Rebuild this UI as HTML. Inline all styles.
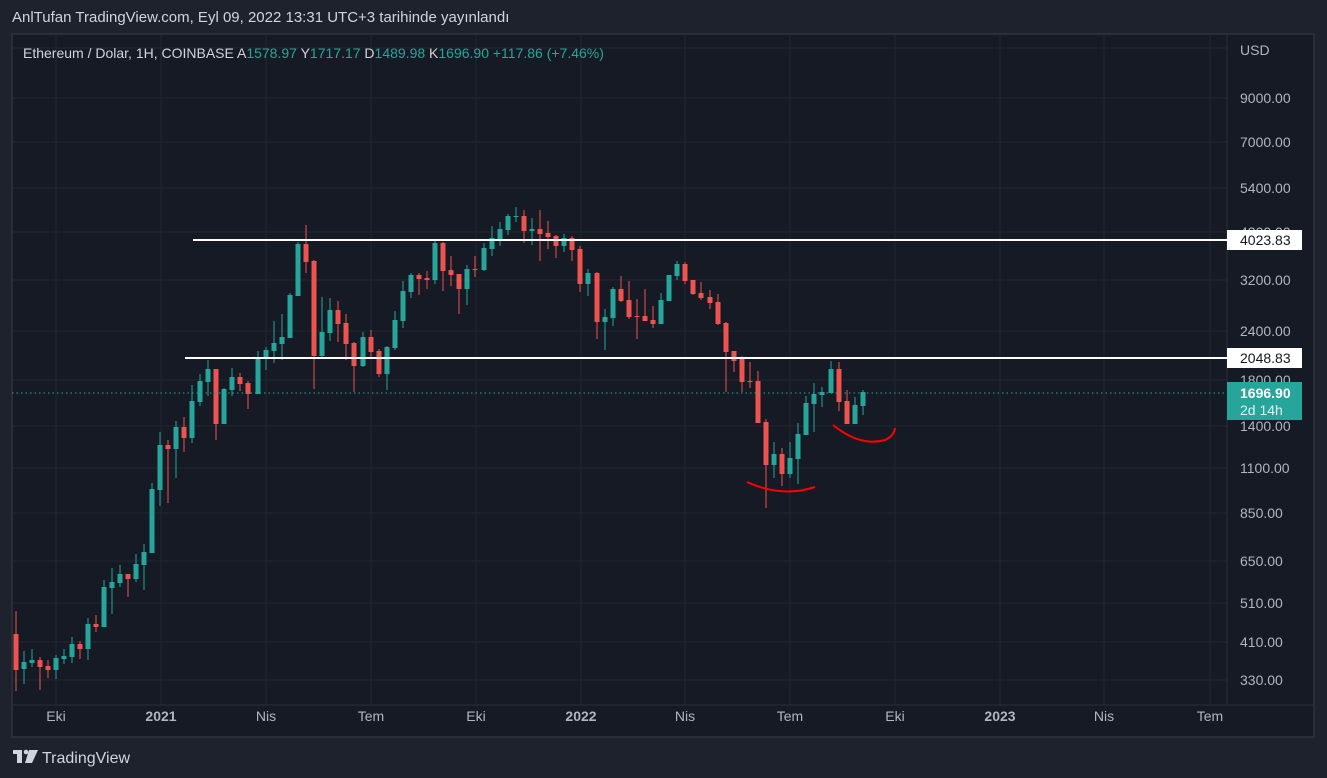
<!DOCTYPE html>
<html><head><meta charset="utf-8"><style>
body{margin:0;width:1327px;height:778px;background:#1e222d;overflow:hidden;font-family:"Liberation Sans",sans-serif;}
#hdr{position:absolute;left:12px;top:9px;color:#d1d4dc;font-size:15px;}
svg{position:absolute;left:0;top:0;}
</style></head><body>
<div id="hdr">AnlTufan TradingView.com, Eyl 09, 2022 13:31 UTC+3 tarihinde yayınlandı</div>
<svg id="s" width="1327" height="778" font-family="Liberation Sans, sans-serif">
<rect x="12" y="34" width="1302" height="703" fill="#161a25" stroke="#2a2e39" stroke-width="2"/>
<g stroke="#21252f" stroke-width="1" id="grid"></g>
<line x1="1227" y1="35" x2="1227" y2="705" stroke="#2a2e39"/>
<line x1="13" y1="705" x2="1313" y2="705" stroke="#2a2e39"/>
<g id="c"></g>
<line x1="12" y1="393" x2="1227" y2="393" stroke="#26a69a" stroke-dasharray="1.5,3"/>
<line x1="193" y1="240" x2="1227" y2="240" stroke="#fff" stroke-width="2"/>
<line x1="185" y1="358" x2="1227" y2="358" stroke="#fff" stroke-width="2"/>
<path d="M747,482 Q782,498 815,487" stroke="#f00" stroke-width="2" fill="none"/>
<path d="M833,425 Q860,447 885,440 Q894,436 895,428" stroke="#f00" stroke-width="2" fill="none"/>
<g fill="#b2b5be" font-size="14">
<text x="1240" y="55">USD</text>
<text x="1240" y="103">9000.00</text><text x="1240" y="147">7000.00</text><text x="1240" y="193">5400.00</text>
<text x="1240" y="237">4200.00</text>
<text x="1240" y="285">3200.00</text><text x="1240" y="336">2400.00</text><text x="1240" y="385">1800.00</text>
<text x="1240" y="431">1400.00</text><text x="1240" y="473">1100.00</text><text x="1240" y="518">850.00</text>
<text x="1240" y="566">650.00</text><text x="1240" y="608">510.00</text><text x="1240" y="647">410.00</text><text x="1240" y="685">330.00</text>
</g>
<rect x="1227" y="230" width="75" height="20" fill="#fff"/><text x="1240" y="245" font-size="14" fill="#131722">4023.83</text>
<rect x="1227" y="348" width="75" height="20" fill="#fff"/><text x="1240" y="363" font-size="14" fill="#131722">2048.83</text>
<rect x="1227" y="382" width="75" height="38" fill="#26a69a"/>
<text x="1240" y="398" font-size="14" font-weight="bold" fill="#fff">1696.90</text>
<text x="1240" y="415" font-size="14" fill="#e0f2f1">2d 14h</text>
<g fill="#b2b5be" font-size="14" text-anchor="middle">
<text x="56" y="721">Eki</text><text x="161" y="721" font-weight="bold">2021</text><text x="266" y="721">Nis</text>
<text x="371" y="721">Tem</text><text x="476" y="721">Eki</text><text x="581" y="721" font-weight="bold">2022</text>
<text x="685" y="721">Nis</text><text x="790" y="721">Tem</text><text x="895" y="721">Eki</text>
<text x="1000" y="721" font-weight="bold">2023</text><text x="1104" y="721">Nis</text><text x="1210" y="721">Tem</text>
</g>
<text x="23" y="58" font-size="14" fill="#d1d4dc">Ethereum / Dolar, 1H, COINBASE <tspan>A</tspan><tspan fill="#26a69a">1578.97</tspan> Y<tspan fill="#26a69a">1717.17</tspan> D<tspan fill="#26a69a">1489.98</tspan> K<tspan fill="#26a69a">1696.90</tspan> <tspan fill="#26a69a">+117.86 (+7.46%)</tspan></text>
<g fill="#d1d4dc"><rect x="13" y="750" width="9" height="4"/><rect x="17" y="750" width="5" height="13"/><circle cx="26" cy="752" r="2.3"/><path d="M29,750 L38,750 L32,763 L25,763 Z"/></g>
<text x="42" y="763" font-size="16" fill="#d1d4dc">TradingView</text>
</svg>
<script>
var g=document.getElementById('grid'),h='';
[56,161,266,371,476,581,685,790,895,1000,1104,1210].forEach(function(x){h+='<line x1="'+x+'" y1="35" x2="'+x+'" y2="705"/>';});
[48,98,142,188,232,280,331,380,426,468,513,561,603,642,680].forEach(function(y){h+='<line x1="13" y1="'+y+'" x2="1227" y2="'+y+'"/>';});
g.innerHTML=h;
var d=[[16,'r',634,670,611,691],[24,'g',662,669,651,684],[32,'g',660,663,649,667],[40,'r',660,667,657,690],[48,'r',666,670,660,678],[56,'g',658,670,655,679],[64,'g',656,659,649,664],[72,'g',644,657,637,663],[80,'r',644,649,641,659],[88,'g',624,649,618,660],[96,'r',624,627,615,632],[104,'g',587,627,580,627],[112,'g',582,588,568,614],[120,'g',574,583,565,587],[128,'r',574,579,574,597],[136,'g',564,579,554,582],[144,'g',552,565,544,590],[152,'g',489,553,483,553],[160,'g',445,490,432,506],[168,'r',445,449,440,503],[176,'g',427,449,421,478],[184,'r',427,438,417,452],[192,'g',401,438,385,443],[200,'g',381,402,374,406],[208,'g',369,382,360,396],[216,'r',369,424,369,440],[224,'g',389,424,388,424],[232,'g',377,390,368,396],[240,'r',377,384,373,391],[248,'r',383,394,381,409],[258,'g',357,394,351,394],[266,'g',350,358,347,370],[274,'g',343,351,321,363],[282,'g',337,344,314,360],[290,'g',295,338,293,338],[298,'g',244,296,242,296],[306,'r',244,262,225,273],[314,'r',261,356,260,389],[322,'g',332,356,297,357],[330,'g',310,333,298,341],[338,'r',310,324,301,342],[346,'r',323,344,314,360],[354,'r',343,366,342,392],[363,'g',337,366,332,367],[371,'r',337,352,330,359],[379,'r',351,374,349,377],[387,'g',347,374,346,390],[395,'g',320,348,311,350],[403,'g',291,321,281,328],[411,'g',275,292,273,298],[419,'r',275,279,273,295],[427,'r',278,280,271,289],[435,'g',243,280,240,284],[443,'r',243,271,242,291],[451,'r',270,275,256,286],[459,'r',274,289,274,314],[467,'g',269,289,265,305],[475,'r',269,270,256,277],[484,'g',248,270,243,271],[492,'g',238,249,226,256],[500,'g',229,239,222,246],[508,'g',216,230,214,235],[516,'g',216,217,207,222],[524,'r',216,231,210,243],[532,'g',229,231,218,245],[540,'r',229,234,210,261],[548,'r',233,237,221,249],[556,'r',236,246,235,258],[564,'g',238,246,234,252],[572,'r',238,250,236,261],[580,'r',249,284,246,292],[588,'g',273,284,269,296],[597,'r',273,322,272,339],[605,'g',317,322,309,350],[613,'g',289,318,287,326],[621,'r',289,301,276,302],[629,'r',300,317,281,319],[637,'r',316,317,299,339],[645,'r',316,321,289,321],[653,'r',320,324,306,328],[661,'g',300,324,293,324],[669,'g',275,301,275,301],[677,'g',264,276,261,280],[685,'r',264,281,262,284],[693,'r',280,294,280,295],[701,'r',293,298,282,300],[710,'r',297,303,290,309],[718,'r',302,324,294,325],[726,'r',323,352,322,392],[734,'r',351,361,351,372],[742,'r',359,382,356,392],[750,'r',381,382,362,388],[758,'r',381,423,371,423],[766,'r',422,465,419,508],[774,'g',454,465,442,478],[782,'r',454,474,448,486],[790,'g',458,474,442,478],[798,'g',434,459,423,484],[806,'g',403,435,396,435],[814,'g',394,404,383,432],[822,'g',392,395,387,407],[831,'g',369,393,361,393],[839,'r',369,402,362,411],[847,'r',401,424,390,424],[855,'g',405,424,397,424],[863,'g',392,406,390,415]];
var s='';d.forEach(function(c){var col=c[1]=='g'?'#26a69a':'#ef5350';var bh=Math.max(1,c[3]-c[2]);
s+='<rect x="'+(c[0]-0.5)+'" y="'+c[4]+'" width="1" height="'+(c[5]-c[4])+'" fill="'+col+'"/>';
s+='<rect x="'+(c[0]-2.5)+'" y="'+c[2]+'" width="5" height="'+bh+'" fill="'+col+'"/>';});
document.getElementById('c').innerHTML=s;
</script>
</body></html>
